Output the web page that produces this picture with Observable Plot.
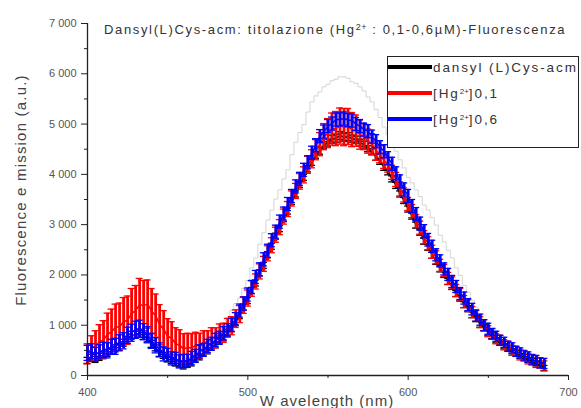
<!DOCTYPE html>
<html>
<head>
<meta charset="utf-8">
<script src="https://cdn.jsdelivr.net/npm/d3@7"></script>
<script src="https://cdn.jsdelivr.net/npm/@observablehq/plot@0.6"></script>
<style>
  body { margin: 0; background: #fff; }
  #wrap { position: relative; width: 581px; height: 408px; font-family: "Liberation Sans", Arial, sans-serif; color: #333; }
  .title { position: absolute; left: 104px; top: 22px; font-size: 13px; letter-spacing: 1.65px; white-space: nowrap; color: #333; }
  .title sup { font-size: 9px; position: relative; top: -4px; vertical-align: baseline; letter-spacing: 0.5px; }
  .ylab { position: absolute; left: 20px; top: 190px; transform: translate(-50%, -50%) rotate(-90deg); font-size: 15px; letter-spacing: 1.2px; white-space: nowrap; color: #444; }
  .xlab { position: absolute; left: 327px; top: 400px; transform: translate(-50%, -50%); font-size: 15px; letter-spacing: 1px; white-space: nowrap; color: #444; }
  .legend { position: absolute; left: 387px; top: 56px; width: 190px; height: 90px; border: 1.5px solid #222; background: #fff; }
  .entry { position: absolute; left: 0; height: 20px; display: flex; align-items: center; }
  .swatch { width: 44px; height: 3.5px; margin-right: 1px; }
  .etext { font-size: 13.5px; letter-spacing: 1.9px; white-space: nowrap; color: #333; }
  .etext sup { font-size: 8px; position: relative; top: -4px; vertical-align: baseline; letter-spacing: 0; }
</style>
</head>
<body>
<div id="wrap">
  <div id="chart"></div>
  <div class="title" id="title"></div>
  <div class="ylab" id="ylab"></div>
  <div class="xlab" id="xlab"></div>
  <div class="legend" id="legend"></div>
</div>
<script>
const titleHTML = "Dansyl(L)Cys-acm: titolazione (Hg<sup>2+</sup> : 0,1-0,6µM)-Fluorescenza";
const yLabel = "Fluorescence e mission (a.u.)";
const xLabel = "W avelength (nm)";

const seriesNames = ["dansyl (L)Cys-acm", "[Hg<sup>2+</sup>]0,1", "[Hg<sup>2+</sup>]0,6"];
const seriesColors = ["#000000", "#ff0000", "#0000ff"];

const xTicks = [400, 500, 600, 700];
const xMinorTicks = [450, 550, 650];
const yTicks = [0, 1000, 2000, 3000, 4000, 5000, 6000, 7000];
const yTickLabels = ["0", "1 000", "2 000", "3 000", "4 000", "5 000", "6 000", "7 000"];
const yMinorTicks = [500, 1500, 2500, 3500, 4500, 5500, 6500];

const wavelengths = [
  400,402.5,405,407.5,410,412.5,415,417.5,420,422.5,
  425,427.5,430,432.5,435,437.5,440,442.5,445,447.5,
  450,452.5,455,457.5,460,462.5,465,467.5,470,472.5,
  475,477.5,480,482.5,485,487.5,490,492.5,495,497.5,
  500,502.5,505,507.5,510,512.5,515,517.5,520,522.5,
  525,527.5,530,532.5,535,537.5,540,542.5,545,547.5,
  550,552.5,555,557.5,560,562.5,565,567.5,570,572.5,
  575,577.5,580,582.5,585,587.5,590,592.5,595,597.5,
  600,602.5,605,607.5,610,612.5,615,617.5,620,622.5,
  625,627.5,630,632.5,635,637.5,640,642.5,645,647.5,
  650,652.5,655,657.5,660,662.5,665,667.5,670,672.5,
  675,677.5,680,682.5,685];

const grayRef = [
  400,420,395,430,445,480,495,550,575,640,
  670,750,775,800,750,700,590,530,440,410,
  345,325,295,300,295,340,370,450,495,580,
  640,730,790,910,990,1150,1290,1430,1540,1730,
  1890,2140,2340,2610,2840,3090,3290,3510,3690,3910,
  4090,4390,4640,4830,4990,5240,5440,5560,5640,5740,
  5790,5860,5890,5940,5940,5910,5840,5810,5740,5660,
  5540,5440,5290,5130,4940,4790,4590,4460,4290,4130,
  3940,3830,3690,3560,3390,3290,3140,2990,2790,2660,
  2490,2340,2140,1990,1790,1660,1490,1360,1190,1110,
  990,920,810,760,670,630,550,520,450,430,
  370,350,290,270,220];

const blackVals = [
  300,350,320,370,410,450,490,540,570,650,
  710,800,810,840,790,740,630,550,440,400,
  330,300,250,230,190,230,250,330,370,450,
  490,570,610,700,750,860,930,1070,1190,1360,
  1490,1690,1840,2040,2190,2400,2570,2770,2920,3120,
  3270,3460,3610,3800,3940,4110,4240,4380,4470,4580,
  4630,4700,4720,4770,4740,4750,4710,4690,4630,4590,
  4510,4450,4340,4260,4140,4050,3910,3780,3610,3480,
  3310,3170,2990,2850,2670,2550,2390,2270,2120,2010,
  1870,1770,1630,1540,1410,1330,1210,1130,1020,950,
  850,790,700,660,580,550,480,450,390,370,
  310,290,240,210,150];
const blackErr = [
  60,70,60,70,60,70,60,70,70,70,
  70,80,70,80,70,70,70,60,60,60,
  60,60,60,60,60,60,60,60,60,60,
  60,60,60,60,60,60,60,60,60,60,
  60,60,60,60,60,60,60,60,60,60,
  60,60,60,60,60,60,60,60,70,70,
  70,80,80,80,80,80,70,70,70,70,
  60,60,60,60,60,60,60,60,60,60,
  60,60,60,60,60,60,60,60,60,60,
  60,60,60,60,60,60,60,60,60,60,
  60,60,50,50,50,50,50,50,50,50,
  50,50,50,50,50];

const redVals = [
  430,540,590,670,710,820,870,960,970,1070,
  1100,1230,1290,1410,1390,1420,1280,1190,1010,920,
  780,740,630,600,530,550,550,600,590,660,
  670,740,750,830,850,950,990,1130,1220,1400,
  1540,1730,1870,2070,2220,2430,2590,2800,2950,3160,
  3310,3520,3670,3860,3990,4190,4310,4490,4600,4750,
  4820,4900,4910,4960,4940,4950,4890,4870,4790,4750,
  4660,4600,4470,4400,4270,4190,4040,3900,3710,3590,
  3410,3270,3070,2940,2750,2630,2460,2350,2190,2090,
  1930,1840,1690,1610,1470,1390,1260,1190,1060,1000,
  880,830,730,700,610,580,500,480,410,400,
  330,320,260,250,190];
const redErr = [
  200,250,300,340,380,420,450,460,470,480,
  480,500,500,520,500,480,450,430,400,370,
  350,330,320,310,300,290,280,260,250,230,
  220,210,200,195,190,185,180,175,170,165,
  160,155,150,150,150,150,150,150,150,150,
  150,150,150,155,160,170,180,200,230,260,
  290,320,340,360,370,360,340,310,290,260,
  240,210,190,170,150,145,140,140,140,140,
  130,130,130,130,130,130,130,130,120,120,
  120,120,120,120,120,120,110,110,110,110,
  110,105,100,100,100,100,100,100,100,100,
  100,100,100,100,100];

const blueVals = [
  450,480,420,470,510,500,570,580,650,690,
  800,850,910,930,870,810,690,600,510,430,
  410,340,330,280,290,290,350,390,480,510,
  590,630,710,750,840,900,1010,1120,1290,1430,
  1610,1760,1960,2110,2310,2480,2690,2860,3060,3220,
  3410,3570,3760,3910,4090,4240,4430,4580,4760,4850,
  4960,5010,5090,5090,5110,5080,5070,5000,4960,4890,
  4860,4750,4660,4540,4460,4320,4210,4020,3860,3700,
  3570,3370,3210,3020,2870,2700,2570,2400,2280,2120,
  2010,1870,1770,1630,1540,1410,1320,1190,1110,1000,
  930,830,780,700,660,580,550,480,450,390,
  370,310,300,250,240];
const blueErr = [
  150,150,140,140,150,150,150,160,160,160,
  160,170,170,170,160,160,150,150,140,140,
  130,130,130,130,130,130,130,130,130,130,
  130,130,130,130,130,130,130,130,130,130,
  130,130,130,130,130,130,130,130,130,130,
  130,130,130,130,130,130,130,130,130,130,
  130,130,130,130,130,130,130,130,130,130,
  130,130,130,130,130,130,130,130,130,130,
  130,130,130,130,130,125,120,120,120,120,
  120,120,120,120,120,120,115,110,110,110,
  110,105,100,100,100,100,100,100,100,100,
  100,100,100,100,100];

const gray = wavelengths.map((w, i) => ({w, v: grayRef[i]}));
const series = [
  wavelengths.map((w, i) => ({w, v: blackVals[i], e: blackErr[i]})),
  wavelengths.map((w, i) => ({w, v: redVals[i], e: redErr[i]})),
  wavelengths.map((w, i) => ({w, v: blueVals[i], e: blueErr[i]}))
];

function seriesMarks(data, color) {
  return [
    Plot.ruleX(data, {x: "w", y1: d => d.v - d.e, y2: d => d.v + d.e, stroke: color, strokeWidth: 2.8}),
    Plot.ruleY(data, {x1: "w", x2: "w", y: d => d.v + d.e, insetLeft: -3.5, insetRight: -3.5, stroke: color, strokeWidth: 1.3}),
    Plot.ruleY(data, {x1: "w", x2: "w", y: d => d.v - d.e, insetLeft: -3.5, insetRight: -3.5, stroke: color, strokeWidth: 1.3}),
    Plot.line(data, {x: "w", y: "v", stroke: color, strokeWidth: 1.5})
  ];
}

const chart = Plot.plot({
  width: 581,
  height: 408,
  marginLeft: 87,
  marginRight: 13,
  marginTop: 23,
  marginBottom: 33,
  style: {fontFamily: "'Liberation Sans', Arial, sans-serif", fontSize: "11px", color: "#555", background: "transparent"},
  x: {domain: [400, 700]},
  y: {domain: [0, 7000]},
  marks: [
    Plot.line(gray, {x: "w", y: "v", stroke: "#d4d4d4", strokeWidth: 1, curve: "step"}),
    ...seriesMarks(series[0], seriesColors[0]),
    ...seriesMarks(series[1], seriesColors[1]),
    ...seriesMarks(series[2], seriesColors[2]),
    Plot.axisY({ticks: yTicks, tickSize: 6, tickPadding: 5, tickFormat: (d, i) => yTickLabels[i], label: null, stroke: "#222"}),
    Plot.axisY({ticks: yMinorTicks, tickSize: 3, tickFormat: () => "", label: null, stroke: "#222"}),
    Plot.axisX({ticks: xTicks, tickSize: 5, tickPadding: 8, label: null, stroke: "#222"}),
    Plot.axisX({ticks: xMinorTicks, tickSize: 3, tickFormat: () => "", label: null, stroke: "#222"}),
    Plot.ruleX([400], {stroke: "#222", strokeWidth: 1.3}),
    Plot.ruleY([0], {stroke: "#222", strokeWidth: 1.3})
  ]
});
document.getElementById("chart").appendChild(chart);

document.getElementById("title").innerHTML = titleHTML;
document.getElementById("ylab").textContent = yLabel;
document.getElementById("xlab").textContent = xLabel;

const legend = document.getElementById("legend");
seriesNames.forEach((name, i) => {
  const row = document.createElement("div");
  row.className = "entry";
  row.style.top = (i * 26) + "px";
  const sw = document.createElement("div");
  sw.className = "swatch";
  sw.style.background = seriesColors[i];
  const tx = document.createElement("span");
  tx.className = "etext";
  tx.innerHTML = name;
  row.appendChild(sw);
  row.appendChild(tx);
  legend.appendChild(row);
});
</script>
</body>
</html>
